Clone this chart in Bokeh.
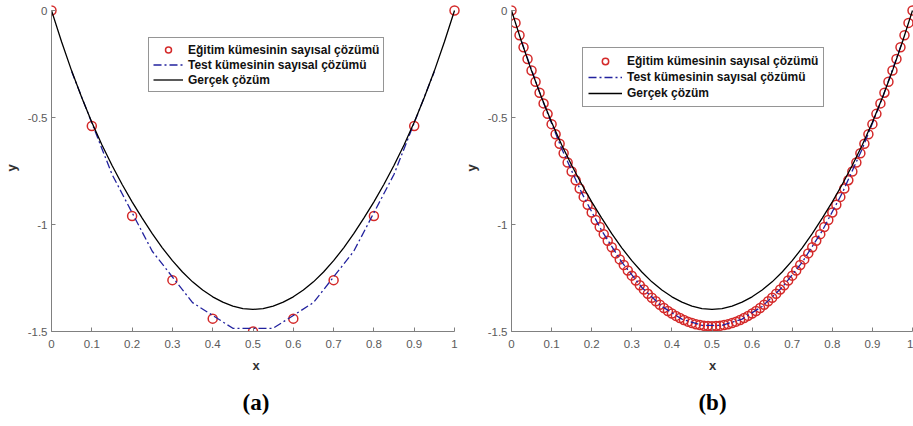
from bokeh.embed import file_html
from bokeh.layouts import row
from bokeh.models import FixedTicker, Range1d, Title
from bokeh.plotting import figure
from bokeh.resources import INLINE

# ---------------------------------------------------------------- data
LABEL_TRAIN = "Eğitim kümesinin sayısal çözümü"
LABEL_TEST = "Test kümesinin sayısal çözümü"
LABEL_TRUE = "Gerçek çözüm"

x_ticks = [0, 0.1, 0.2, 0.3, 0.4, 0.5, 0.6, 0.7, 0.8, 0.9, 1]
x_tick_labels = ["0", "0.1", "0.2", "0.3", "0.4", "0.5", "0.6", "0.7", "0.8", "0.9", "1"]
y_ticks = [-1.5, -1, -0.5, 0]
y_tick_labels = ["-1.5", "-1", "-0.5", "0"]

# exact solution (shared by both panels)
x_true = [0.000, 0.025, 0.050, 0.075, 0.100, 0.125, 0.150, 0.175, 0.200, 0.225,
          0.250, 0.275, 0.300, 0.325, 0.350, 0.375, 0.400, 0.425, 0.450, 0.475,
          0.500, 0.525, 0.550, 0.575, 0.600, 0.625, 0.650, 0.675, 0.700, 0.725,
          0.750, 0.775, 0.800, 0.825, 0.850, 0.875, 0.900, 0.925, 0.950, 0.975,
          1.000]
y_true = [0.000, -0.146, -0.282, -0.407, -0.522, -0.627, -0.723, -0.812, -0.894, -0.970,
          -1.043, -1.109, -1.169, -1.222, -1.268, -1.306, -1.338, -1.363, -1.381, -1.393,
          -1.397, -1.393, -1.381, -1.363, -1.338, -1.306, -1.268, -1.222, -1.169, -1.109,
          -1.043, -0.970, -0.894, -0.812, -0.723, -0.627, -0.522, -0.407, -0.282, -0.146,
          0.000]

# panel (a): coarse training / test sets
x_train_a = [0, 0.1, 0.2, 0.3, 0.4, 0.5, 0.6, 0.7, 0.8, 0.9, 1]
y_train_a = [0, -0.54, -0.96, -1.26, -1.44, -1.50, -1.44, -1.26, -0.96, -0.54, 0]
x_test_a = [0.05, 0.15, 0.25, 0.35, 0.45, 0.55, 0.65, 0.75, 0.85, 0.95]
y_test_a = [-0.285, -0.765, -1.125, -1.365, -1.485, -1.485, -1.365, -1.125, -0.765, -0.285]

# panel (b): fine training / test sets
x_train_b = [0.00, 0.01, 0.02, 0.03, 0.04, 0.05, 0.06, 0.07, 0.08, 0.09,
             0.10, 0.11, 0.12, 0.13, 0.14, 0.15, 0.16, 0.17, 0.18, 0.19,
             0.20, 0.21, 0.22, 0.23, 0.24, 0.25, 0.26, 0.27, 0.28, 0.29,
             0.30, 0.31, 0.32, 0.33, 0.34, 0.35, 0.36, 0.37, 0.38, 0.39,
             0.40, 0.41, 0.42, 0.43, 0.44, 0.45, 0.46, 0.47, 0.48, 0.49,
             0.50, 0.51, 0.52, 0.53, 0.54, 0.55, 0.56, 0.57, 0.58, 0.59,
             0.60, 0.61, 0.62, 0.63, 0.64, 0.65, 0.66, 0.67, 0.68, 0.69,
             0.70, 0.71, 0.72, 0.73, 0.74, 0.75, 0.76, 0.77, 0.78, 0.79,
             0.80, 0.81, 0.82, 0.83, 0.84, 0.85, 0.86, 0.87, 0.88, 0.89,
             0.90, 0.91, 0.92, 0.93, 0.94, 0.95, 0.96, 0.97, 0.98, 0.99,
             1.00]
y_train_b = [0.000, -0.058, -0.116, -0.172, -0.227, -0.280, -0.333, -0.384, -0.434, -0.483,
             -0.531, -0.578, -0.623, -0.667, -0.710, -0.752, -0.793, -0.832, -0.871, -0.908,
             -0.944, -0.979, -1.012, -1.045, -1.076, -1.106, -1.135, -1.163, -1.189, -1.215,
             -1.239, -1.262, -1.284, -1.304, -1.324, -1.342, -1.359, -1.375, -1.390, -1.404,
             -1.416, -1.427, -1.437, -1.446, -1.454, -1.460, -1.466, -1.470, -1.473, -1.474,
             -1.475, -1.474, -1.473, -1.470, -1.466, -1.460, -1.454, -1.446, -1.437, -1.427,
             -1.416, -1.404, -1.390, -1.375, -1.359, -1.342, -1.324, -1.304, -1.284, -1.262,
             -1.239, -1.215, -1.189, -1.163, -1.135, -1.106, -1.076, -1.045, -1.012, -0.979,
             -0.944, -0.908, -0.871, -0.832, -0.793, -0.752, -0.710, -0.667, -0.623, -0.578,
             -0.531, -0.483, -0.434, -0.384, -0.333, -0.280, -0.227, -0.172, -0.116, -0.058,
             0.000]
x_test_b = [0.025, 0.075, 0.125, 0.175, 0.225, 0.275, 0.325, 0.375, 0.425, 0.475,
            0.525, 0.575, 0.625, 0.675, 0.725, 0.775, 0.825, 0.875, 0.925, 0.975]
y_test_b = [-0.144, -0.409, -0.645, -0.852, -1.029, -1.176, -1.294, -1.383, -1.442, -1.471,
            -1.471, -1.442, -1.383, -1.294, -1.176, -1.029, -0.852, -0.645, -0.409, -0.144]

# ---------------------------------------------------------------- style
RED = "#d42a2a"
BLUE = "#22229e"
AXIS_GREY = "#808080"
TICK_TEXT = "#5a5a5a"
SANS = "Liberation Sans"
SERIF = "Liberation Serif"

HEIGHT = 426
PX_PER_X = 404          # pixels per unit of x
PX_PER_Y = 214          # pixels per unit of y
Y0_TOP = 10             # canvas row of y = 0
EXTRA_TOP = 6           # frame room above y = 0 so top markers stay whole


def make_panel(width, left_border, extra_right, caption,
               x_train, y_train, x_test, y_test,
               legend_xy, legend_pad, legend_glyph_w, legend_row_h):
    frame_w = PX_PER_X + extra_right
    frame_h = int(1.5 * PX_PER_Y) + EXTRA_TOP
    top = Y0_TOP - EXTRA_TOP
    p = figure(
        width=width, height=HEIGHT,
        x_range=Range1d(0, 1 + extra_right / PX_PER_X),
        y_range=Range1d(-1.5, EXTRA_TOP / PX_PER_Y),
        min_border_left=left_border,
        min_border_right=width - left_border - frame_w,
        min_border_top=top, min_border_bottom=HEIGHT - top - frame_h,
        output_backend="svg", toolbar_location=None, tools="",
    )
    p.outline_line_color = None
    p.xgrid.visible = False
    p.ygrid.visible = False
    p.background_fill_color = "white"
    p.border_fill_color = "white"

    p.xaxis.ticker = FixedTicker(ticks=x_ticks)
    p.xaxis.bounds = (0, 1)
    p.xaxis.major_label_overrides = dict(zip(x_ticks, x_tick_labels))
    p.xaxis.major_label_standoff = 8
    p.xaxis.axis_label = "x"
    p.xaxis.axis_label_standoff = 7

    p.yaxis.ticker = FixedTicker(ticks=y_ticks)
    p.yaxis.bounds = (-1.5, 0)
    p.yaxis.major_label_overrides = dict(zip(y_ticks, y_tick_labels))
    p.yaxis.major_label_standoff = 4
    p.yaxis.major_label_orientation = "horizontal"
    p.yaxis.axis_label = "y"
    p.yaxis.axis_label_standoff = 6

    for ax in (p.xaxis, p.yaxis):
        ax.axis_line_color = AXIS_GREY
        ax.axis_line_width = 1
        ax.major_tick_line_color = AXIS_GREY
        ax.major_tick_in = 4
        ax.major_tick_out = 0
        ax.minor_tick_line_color = None
        ax.major_label_text_color = TICK_TEXT
        ax.major_label_text_font = SANS
        ax.major_label_text_font_size = "11.5px"
        ax.axis_label_text_font = SANS
        ax.axis_label_text_font_style = "bold"
        ax.axis_label_text_font_size = "13px"
        ax.axis_label_text_color = "#333333"

    # series
    p.scatter(x_train, y_train, marker="circle", size=9, fill_color=None,
              line_color=RED, line_width=1.5, legend_label=LABEL_TRAIN)
    p.line(x_test, y_test, line_color=BLUE, line_width=1.3,
           line_dash="8 3 2 3", legend_label=LABEL_TEST)
    p.line(x_true, y_true, line_color="black", line_width=1.3,
           legend_label=LABEL_TRUE)

    lg = p.legend[0]
    lg.location = legend_xy
    lg.border_line_color = "#2b2b2b"
    lg.border_line_width = 1
    lg.background_fill_color = "white"
    lg.background_fill_alpha = 1
    lg.label_text_font = SANS
    lg.label_text_font_style = "bold"
    lg.label_text_font_size = "12px"
    lg.label_text_color = "#111111"
    lg.padding = legend_pad
    lg.margin = 0
    lg.spacing = 0
    lg.glyph_width = legend_glyph_w
    lg.glyph_height = legend_row_h
    lg.label_height = legend_row_h
    lg.label_standoff = 5

    # panel caption under the x axis
    p.add_layout(Title(text=caption, align="center", text_font=SERIF,
                       text_font_style="bold", text_font_size="23px",
                       text_color="black", standoff=24), "below")
    return p


pa = make_panel(460, 50, 6, "(a)",
                x_train_a, y_train_a, x_test_a, y_test_a,
                legend_xy=(97, 239), legend_pad=4, legend_glyph_w=30,
                legend_row_h=15)
pb = make_panel(453, 48, 1, "(b)",
                x_train_b, y_train_b, x_test_b, y_test_b,
                legend_xy=(71, 224), legend_pad=5, legend_glyph_w=34,
                legend_row_h=16)

layout = row(pa, pb)
open("out.html", "w").write(file_html(layout, INLINE))
